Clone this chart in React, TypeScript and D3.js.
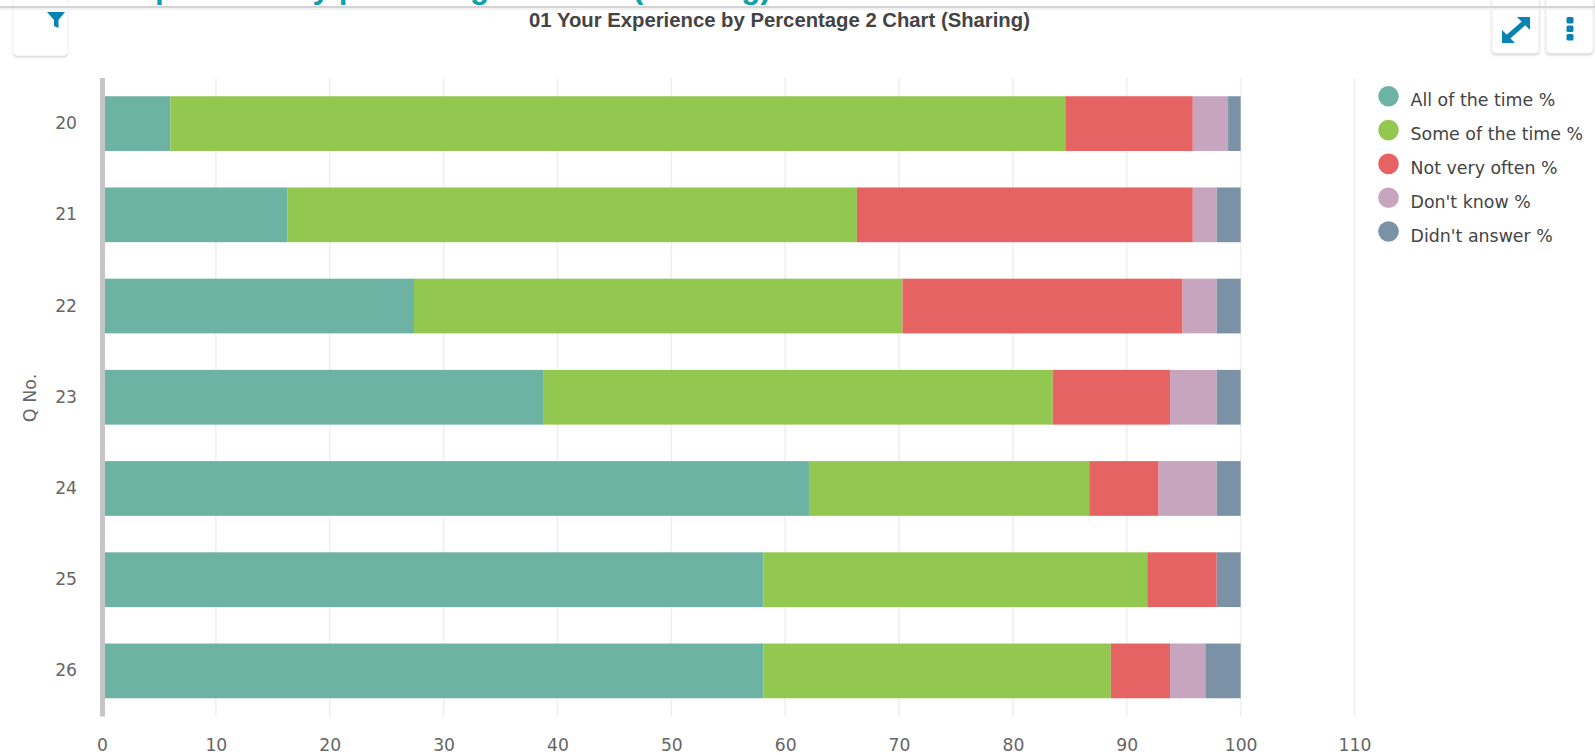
import { useEffect, useRef } from "react";
import { axisBottom, axisLeft, scaleBand, scaleLinear, select, stack } from "d3";

const questions = ["20", "21", "22", "23", "24", "25", "26"];
const seriesNames = ["All of the time %", "Some of the time %", "Not very often %", "Don't know %", "Didn't answer %"];
const seriesColors = ["#6db3a4", "#92c850", "#e66363", "#c7a5bf", "#7a91a6"];
const allOfTheTime = [6, 16.3, 27.4, 38.8, 62.1, 58.1, 58.1];
const someOfTheTime = [78.6, 50, 42.9, 44.7, 24.6, 33.7, 30.5];
const notVeryOften = [11.2, 29.5, 24.6, 10.3, 6.1, 6.1, 5.2];
const dontKnow = [3.1, 2.1, 3, 4.1, 5.1, 0, 3.1];
const didntAnswer = [1.1, 2.1, 2.1, 2.1, 2.1, 2.1, 3.1];
const xTicks = [0, 10, 20, 30, 40, 50, 60, 70, 80, 90, 100, 110];

const allSeries = [allOfTheTime, someOfTheTime, notVeryOften, dontKnow, didntAnswer];
const rows = questions.map((q, i) => {
    const row: Record<string, number | string> = { q };
    seriesNames.forEach((name, s) => { row[name] = allSeries[s][i]; });
    return row;
});

const labelFont = "'DejaVu Sans', sans-serif";
const titleFont = "'Liberation Sans', Arial, sans-serif";
const TEAL = "#12a0ae";
const BLUE = "#0884b4";

const plot = { top: 78, bottom: 716.5, left: 102 };
const scaleX = scaleLinear().domain([0, 110]).range([plot.left, plot.left + 1252.5]);
const scaleY = scaleBand().domain(questions).range([plot.top, plot.bottom]).paddingInner(0.4).paddingOuter(0.2);
const layers = stack<any>().keys(seriesNames)(rows);

const Button = ({ x, y, w, h, line = "#ececec" }: { x: number; y: number; w: number; h: number; line?: string }) => (
    <rect x={x} y={y} width={w} height={h} rx={3} fill="#fff" stroke={line} strokeWidth={1} filter="url(#btnShadow)" />
);

export default function App() {
    const xRef = useRef<SVGGElement>(null);
    const yRef = useRef<SVGGElement>(null);

    useEffect(() => {
        if (xRef.current) {
            const g = select(xRef.current).call(axisBottom(scaleX).tickValues(xTicks).tickSize(0).tickPadding(22));
            g.select(".domain").remove();
            g.selectAll("text").attr("fill", "#666").style("font", `17.2px ${labelFont}`);
        }
        if (yRef.current) {
            const g = select(yRef.current).call(axisLeft(scaleY).tickSize(0).tickPadding(25));
            g.select(".domain").remove();
            g.selectAll("text").attr("fill", "#666").style("font", `17.2px ${labelFont}`);
        }
    }, []);

    return (
        <svg width={1595} height={755} style={{ position: "absolute", left: 0, top: 0, background: "#fff" }}>
            <defs>
                <filter id="btnShadow" x="-20%" y="-20%" width="140%" height="140%">
                    <feDropShadow dx={0} dy={1.5} stdDeviation={1.2} floodColor="#000" floodOpacity={0.2} />
                </filter>
            </defs>

            {/* page heading, cut off by the top of the crop */}
            <text x={-5} y={-2} fontFamily={titleFont} fontSize={31.5} fontWeight={700} fill={TEAL}>
                01 Your Experience by percentage 2 Chart (Sharing)
            </text>

            <Button x={14} y={-10} w={53} h={65} line="#fff" />
            <Button x={1492} y={-10} w={47} h={63} />
            <Button x={1546} y={-10} w={47} h={63} />
            <rect x={0} y={6} width={1595} height={2} fill="#d4d4d4" />
            <rect x={0} y={8} width={1595} height={2} fill="#f1f1f1" />

            {/* filter icon */}
            <path d="M47 12 H65 L58.5 20 V28 L54 26 V20 Z" fill={BLUE} />
            {/* expand icon */}
            <g stroke={BLUE} strokeWidth={5} fill={BLUE}>
                <line x1={1508} y1={37} x2={1524} y2={23} />
                <path d="M1517 17 H1530 V30 Z" strokeWidth={0} />
                <path d="M1502 30 V43 H1515 Z" strokeWidth={0} />
            </g>
            {/* menu icon */}
            {[20, 28.5, 37].map(cy => <rect key={cy} x={1566.5} y={cy - 3} width={7} height={6.5} rx={1.5} fill={BLUE} />)}

            <text x={779.5} y={27} textAnchor="middle" fontFamily={titleFont} fontSize={20.3} fontWeight={700} fill="#444">
                01 Your Experience by Percentage 2 Chart (Sharing)
            </text>

            {xTicks.map(t => (
                <line key={t} x1={scaleX(t)} x2={scaleX(t)} y1={plot.top} y2={plot.bottom} stroke="#eeeeee" strokeWidth={1.5} />
            ))}

            {layers.map((layer, s) => (
                <g key={layer.key} fill={seriesColors[s]}>
                    {layer.map((d, i) => (
                        <rect
                            key={questions[i]}
                            x={scaleX(d[0])}
                            y={scaleY(questions[i])}
                            width={scaleX(d[1]) - scaleX(d[0])}
                            height={scaleY.bandwidth()}
                        />
                    ))}
                </g>
            ))}

            <line x1={102.5} x2={102.5} y1={plot.top} y2={plot.bottom} stroke="#c6c6c6" strokeWidth={5} />

            <g ref={xRef} transform={`translate(0, ${plot.bottom})`} />
            <g ref={yRef} transform={`translate(${plot.left}, 0)`} />

            <text
                transform="translate(31, 398) rotate(-90)"
                textAnchor="middle"
                dominantBaseline="middle"
                fontFamily={labelFont}
                fontSize={17.5}
                fill="#666"
            >
                Q No.
            </text>

            <g>
                {seriesNames.map((name, i) => (
                    <g key={name} transform={`translate(0, ${96.3 + i * 33.8})`}>
                        <circle cx={1388.5} cy={0} r={10.3} fill={seriesColors[i]} />
                        <text x={1410.5} y={5} dominantBaseline="middle" fontFamily={labelFont} fontSize={17.4} fill="#444">
                            {name}
                        </text>
                    </g>
                ))}
            </g>
        </svg>
    );
}
